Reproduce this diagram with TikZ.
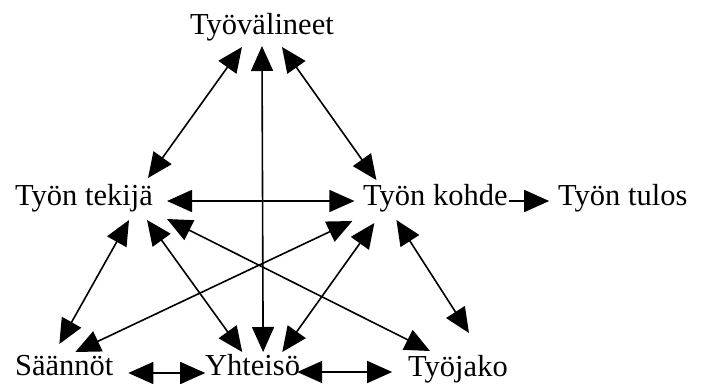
\documentclass[tikz,border=0pt]{standalone}
\usepackage{fontspec}
\setmainfont{Liberation Serif}
\usepackage{tikz}
\usetikzlibrary{arrows.meta}

\begin{document}
\begin{tikzpicture}[
  x=1pt, y=-1pt,
  every node/.style={font=\fontsize{30.5}{36}\selectfont},
  lbl/.style={anchor=base west, inner sep=0pt},
  >={Triangle[length=25pt 0 0, width=22pt 0 0]},
  arr/.style={<->, line width=1.6pt},
  oneway/.style={->, line width=1.6pt},
]
 \useasboundingbox (0,0) rectangle (703,383);

 % ---- Corners of the triangle ----
 \node[lbl] (valineet) at (190,34) {Työvälineet};
 \node[lbl] (tekija) at (15,205) {Työn tekijä};
 \node[lbl] (kohde) at (363,205) {Työn kohde};
 \node[lbl] (tulos) at (558,205) {Työn tulos};
 \node[lbl] (saannot) at (15,375) {Säännöt};
 \node[lbl] (yhteiso) at (205,375) {Yhteisö};
 \node[lbl] (tyojako) at (408,376) {Työjako};

 % ---- Tool links ----
 \draw[arr] ([xshift=-20pt, yshift=-13pt]valineet.base) -- ([xshift=64pt, yshift=27pt]tekija.base);
 \draw[arr] ([yshift=-12pt]valineet.base) -- ([xshift=10.5pt, yshift=23pt]yhteiso.base);
 \draw[arr] ([xshift=20pt, yshift=-13pt]valineet.base) -- ([xshift=-59pt, yshift=25pt]kohde.base);

 % ---- Subject and object ----
 \draw[arr] ([xshift=83pt, yshift=4pt]tekija.base) -- ([xshift=-81pt, yshift=4pt]kohde.base);
 \draw[oneway] ([xshift=74pt, yshift=4pt]kohde.base) -- ([xshift=-73.6pt, yshift=4pt]tulos.base);

 % ---- From the subject down ----
 \draw[arr] ([xshift=45pt, yshift=-15pt]tekija.base) -- ([xshift=-5pt, yshift=31pt]saannot.base);
 \draw[arr] ([xshift=63pt, yshift=-15pt]tekija.base) -- ([xshift=-10.4pt, yshift=23pt]yhteiso.base);
 \draw[arr] ([xshift=83pt, yshift=-14pt]tekija.base) -- ([xshift=-28pt, yshift=25pt]tyojako.base);

 % ---- From the object down ----
 \draw[arr] ([xshift=-83pt, yshift=-16pt]kohde.base) -- ([xshift=11pt, yshift=23pt]saannot.base);
 \draw[arr] ([xshift=-61pt, yshift=-18pt]kohde.base) -- ([xshift=29.6pt, yshift=23pt]yhteiso.base);
 \draw[arr] ([xshift=-39pt, yshift=-15pt]kohde.base) -- ([xshift=11pt, yshift=43pt]tyojako.base);

 % ---- Base of the triangle ----
 \draw[arr] ([xshift=64pt, yshift=2pt]saannot.base) -- ([xshift=-47.4pt, yshift=2pt]yhteiso.base);
 \draw[arr] ([xshift=44.6pt, yshift=3pt]yhteiso.base) -- ([xshift=-65.8pt, yshift=4pt]tyojako.base);

\end{tikzpicture}
\end{document}
